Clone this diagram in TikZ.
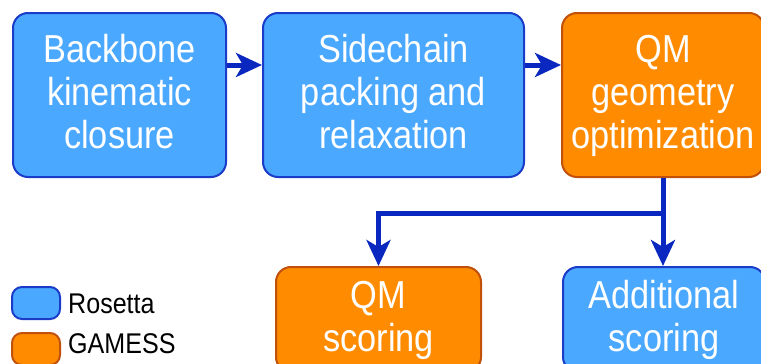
\documentclass[tikz,border=0pt]{standalone}
\usepackage{fontspec}
\setmainfont[FakeStretch=0.88]{Liberation Sans}
\usetikzlibrary{arrows.meta}
\definecolor{rblue}{HTML}{4AA8FF}
\definecolor{rblueb}{HTML}{1A3CC8}
\definecolor{gorange}{HTML}{FF8C00}
\definecolor{goranged}{HTML}{C0500A}
\definecolor{arr}{HTML}{0A28C0}
\tikzset{
 box/.style={rounded corners=15pt, line width=2pt, inner sep=0pt, text=white, align=center,
   font=\fontsize{39}{43}\selectfont, text depth=8pt},
 rosetta/.style={box, fill=rblue, draw=rblueb},
 gamess/.style={box, fill=gorange, draw=goranged},
 flow/.style={draw=arr, line width=5pt, -{Stealth[length=26pt,width=24pt,inset=7pt]}},
 legbox/.style={rounded corners=10pt, line width=2pt, minimum width=48pt, minimum height=32pt, inner sep=0pt},
 legtext/.style={anchor=base west, inner sep=0pt, font=\fontsize{28.5}{30}\selectfont},
}
\begin{document}
\begin{tikzpicture}[x=1pt,y=-1pt]
\useasboundingbox (0,0) rectangle (761,364);
\clip (0,0) rectangle (761,364);
% top row
\node[rosetta, minimum width=213pt, minimum height=164pt, text height=114pt] (bb) at (119.5,95) {Backbone\\kinematic\\closure};
\node[rosetta, minimum width=261pt, minimum height=164pt, text height=114pt] (sc) at (393.5,95) {Sidechain\\packing and\\relaxation};
\node[gamess, minimum width=202pt, minimum height=164pt, text height=114pt] (qo) at (663,95) {QM\\geometry\\optimization};
% bottom row
\node[gamess, anchor=north, minimum width=205pt, minimum height=105pt, text height=71pt] (qs) at (378.5,266) {QM\\scoring};
\node[rosetta, anchor=north, minimum width=202pt, minimum height=105pt, text height=71pt] (as) at (664,266) {Additional\\scoring};
% connectors
\draw[flow] ([yshift=30pt]bb.east) -- ([yshift=30pt]sc.west);
\draw[flow] ([yshift=30pt]sc.east) -- ([yshift=30pt]qo.west);
\coordinate (split) at (qo.south |- 0,213);
\draw[flow] (qo.south) -- (split) -| (qs.north);
\draw[flow] (split) -- (split |- as.north);
% legend
\node[legbox, fill=rblue, draw=rblueb] (lr) at (36,303) {};
\node[legtext] (lrt) at (68,313) {Rosetta};
\node[legbox, fill=gorange, draw=goranged] (lg) at (36,349) {};
\node[legtext] (lgt) at (68,353) {GAMESS};
\end{tikzpicture}
\end{document}
